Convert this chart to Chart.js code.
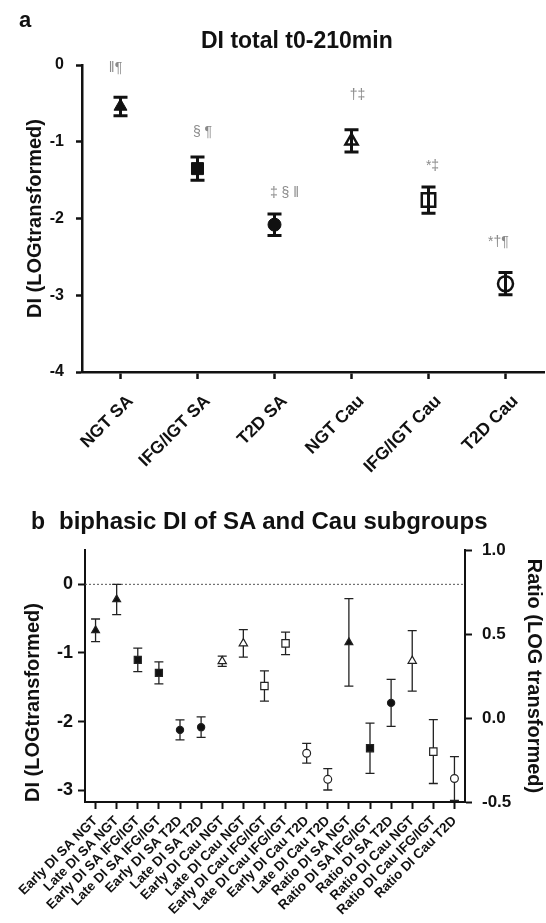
<!DOCTYPE html>
<html>
<head>
<meta charset="utf-8">
<script src="https://cdn.jsdelivr.net/npm/chart.js@4"></script>
<style>
body { margin: 0; background: #fff; }
#hoja { position: relative; width: 546px; height: 923px; overflow: hidden; font-family: "Liberation Sans", Arial, sans-serif; }
.rotulo { position: absolute; font-weight: bold; color: #111; white-space: nowrap; line-height: 1; z-index: 2; }
canvas { position: absolute; left: 0; }
</style>
</head>
<body>
<div id="hoja">
  <div class="rotulo" style="left:19px;top:9px;font-size:22px">a</div>
  <div class="rotulo" style="left:201px;top:29px;font-size:23px">DI total t0-210min</div>
  <div class="rotulo" style="left:31px;top:510px;font-size:23px">b</div>
  <div class="rotulo" style="left:59px;top:509px;font-size:24px">biphasic DI of SA and Cau subgroups</div>
  <canvas id="graficoA" width="546" height="490" style="top:0"></canvas>
  <canvas id="graficoB" width="546" height="433" style="top:490px"></canvas>
</div>
<script>
// panel a: DI total
var gruposA = ['NGT SA', 'IFG/IGT SA', 'T2D SA', 'NGT Cau', 'IFG/IGT Cau', 'T2D Cau'];
var mediasA = [-0.54, -1.35, -2.08, -0.99, -1.76, -2.85];
var errA = [0.12, 0.15, 0.14, 0.145, 0.17, 0.145];
var marcasA = ['\u2016\u00b6', '\u00a7 \u00b6', '\u2021 \u00a7 \u2016', '\u2020\u2021', '*\u2021', '*\u2020\u00b6'];
var ticksA = [0, -1, -2, -3, -4];

// panel b: biphasic DI
var gruposB = ['Early DI SA NGT', 'Late DI SA NGT', 'Early DI SA IFG/IGT', 'Late DI SA IFG/IGT',
  'Early DI SA T2D', 'Late DI SA T2D', 'Early DI Cau NGT', 'Late DI Cau NGT',
  'Early DI Cau IFG/IGT', 'Late DI Cau IFG/IGT', 'Early DI Cau T2D', 'Late DI Cau T2D',
  'Ratio DI SA NGT', 'Ratio DI SA IFG/IGT', 'Ratio DI SA T2D', 'Ratio DI Cau NGT',
  'Ratio DI Cau IFG/IGT', 'Ratio DI Cau T2D'];
var diB = [-0.67, -0.22, -1.10, -1.29, -2.12, -2.08, -1.12, -0.86, -1.48, -0.86, -2.46, -2.84,
  null, null, null, null, null, null];
var errDiB = [0.165, 0.22, 0.17, 0.16, 0.145, 0.15, 0.075, 0.2, 0.22, 0.165, 0.145, 0.155,
  null, null, null, null, null, null];
var ratioB = [null, null, null, null, null, null, null, null, null, null, null, null,
  0.45, -0.18, 0.09, 0.34, -0.20, -0.36];
var errRatioB = [null, null, null, null, null, null, null, null, null, null, null, null,
  0.26, 0.15, 0.14, 0.18, 0.19, 0.13];
var ticksIzqB = [0, -1, -2, -3];
var ticksDerB = [1.0, 0.5, 0.0, -0.5];

var fuente = '"Liberation Sans", Arial, sans-serif';
var negro = '#111';

var barrasError = {
  id: 'barrasError',
  beforeDatasetsDraw: function (chart, args, opts) {
    var ctx = chart.ctx;
    chart.data.datasets.forEach(function (ds, i) {
      if (!ds.errores) return;
      var meta = chart.getDatasetMeta(i);
      var escala = chart.scales[meta.yAxisID];
      ctx.save();
      ctx.strokeStyle = opts.color;
      ctx.lineWidth = opts.ancho;
      meta.data.forEach(function (pt, j) {
        var v = ds.data[j];
        if (v === null || v === undefined) return;
        var arriba = escala.getPixelForValue(v + ds.errores[j]);
        var abajo = escala.getPixelForValue(v - ds.errores[j]);
        ctx.beginPath();
        ctx.moveTo(pt.x, arriba); ctx.lineTo(pt.x, abajo);
        ctx.moveTo(pt.x - opts.tapa, arriba); ctx.lineTo(pt.x + opts.tapa, arriba);
        ctx.moveTo(pt.x - opts.tapa, abajo); ctx.lineTo(pt.x + opts.tapa, abajo);
        ctx.stroke();
      });
      ctx.restore();
    });
  }
};

var marcas = {
  id: 'marcas',
  afterDatasetsDraw: function (chart, args, opts) {
    if (!opts.textos) return;
    var ctx = chart.ctx;
    var ds = chart.data.datasets[0];
    var meta = chart.getDatasetMeta(0);
    var escala = chart.scales.y;
    ctx.save();
    ctx.fillStyle = '#8a8a8a';
    ctx.font = '14px ' + fuente;
    ctx.textAlign = 'center';
    ctx.textBaseline = 'middle';
    meta.data.forEach(function (pt, j) {
      var arriba = escala.getPixelForValue(ds.data[j] + ds.errores[j]);
      ctx.fillText(opts.textos[j], pt.x + opts.dx[j], arriba - opts.dy[j]);
    });
    ctx.restore();
  }
};

var lineaCero = {
  id: 'lineaCero',
  beforeDatasetsDraw: function (chart) {
    var ctx = chart.ctx;
    var y = chart.scales.y.getPixelForValue(0);
    ctx.save();
    ctx.strokeStyle = '#555';
    ctx.lineWidth = 1;
    ctx.setLineDash([2, 2]);
    ctx.beginPath();
    ctx.moveTo(chart.chartArea.left, y);
    ctx.lineTo(chart.chartArea.right, y);
    ctx.stroke();
    ctx.restore();
  }
};

var hueco = 'rgba(0,0,0,0)';

new Chart(document.getElementById('graficoA'), {
  type: 'line',
  data: {
    labels: gruposA,
    datasets: [{
      data: mediasA,
      errores: errA,
      showLine: false,
      clip: false,
      pointStyle: ['triangle', 'rect', 'circle', 'triangle', 'rect', 'circle'],
      pointRadius: [7.5, 8.5, 6.5, 7, 9.5, 7.5],
      pointBackgroundColor: [negro, negro, negro, hueco, hueco, hueco],
      pointBorderColor: negro,
      pointBorderWidth: [1, 1, 1, 2.5, 2.5, 2.5]
    }]
  },
  options: {
    responsive: false,
    animation: false,
    layout: { autoPadding: false, padding: { top: 65, right: 2, left: 0, bottom: 0 } },
    plugins: {
      legend: { display: false },
      tooltip: { enabled: false },
      barrasError: { color: negro, ancho: 3, tapa: 7 },
      marcas: { textos: marcasA, dx: [-5, 5, 10, 6, 4, -7], dy: [29, 25, 21, 35, 21, 30] }
    },
    scales: {
      x: {
        offset: true,
        grid: { display: true, drawOnChartArea: false, tickLength: 7, tickWidth: 2.5, tickColor: negro },
        border: { color: negro, width: 2.5 },
        ticks: { color: negro, font: { family: fuente, size: 17.5, weight: 'bold' }, maxRotation: 45, minRotation: 45,
          padding: 12, labelOffset: 10, autoSkip: false },
        afterFit: function (s) { s.height = 118; s.paddingLeft = 0; s.paddingRight = 0; }
      },
      y: {
        min: -4,
        max: 0,
        afterBuildTicks: function (s) { s.ticks = ticksA.map(function (v) { return { value: v }; }); },
        grid: { display: true, drawOnChartArea: false, tickLength: 6, tickWidth: 2.5, tickColor: negro },
        border: { color: negro, width: 2.5 },
        ticks: { color: negro, font: { family: fuente, size: 16, weight: 'bold' }, padding: 12,
          callback: function (v) { return String(v); } },
        title: { display: true, text: 'DI (LOGtransformed)', color: negro,
          font: { family: fuente, size: 20, weight: 'bold' }, padding: { top: 23, bottom: 0 } },
        afterFit: function (s) { s.width = 82; }
      }
    }
  },
  plugins: [barrasError, marcas]
});

var estilosB = ['triangle', 'triangle', 'rect', 'rect', 'circle', 'circle',
  'triangle', 'triangle', 'rect', 'rect', 'circle', 'circle',
  'triangle', 'rect', 'circle', 'triangle', 'rect', 'circle'];
var rellenoB = [negro, negro, negro, negro, negro, negro, '#fff', '#fff', '#fff', '#fff', '#fff', '#fff',
  negro, negro, negro, '#fff', '#fff', '#fff'];
var radioB = [4.5, 4.5, 5, 5, 3.6, 3.6, 4.8, 4.8, 5.2, 5.2, 3.9, 3.9, 4.5, 5, 3.6, 4.8, 5.2, 3.9];

function serieB(datos, errores, eje) {
  return {
    data: datos,
    errores: errores,
    yAxisID: eje,
    showLine: false,
    clip: false,
    pointStyle: estilosB,
    pointRadius: radioB,
    pointBackgroundColor: rellenoB,
    pointBorderColor: '#222',
    pointBorderWidth: 1.2
  };
}

new Chart(document.getElementById('graficoB'), {
  type: 'line',
  data: {
    labels: gruposB,
    datasets: [serieB(diB, errDiB, 'y'), serieB(ratioB, errRatioB, 'y2')]
  },
  options: {
    responsive: false,
    animation: false,
    layout: { autoPadding: false, padding: { top: 60, right: 0, left: 0, bottom: 0 } },
    plugins: {
      legend: { display: false },
      tooltip: { enabled: false },
      barrasError: { color: '#222', ancho: 1.3, tapa: 4.5 }
    },
    scales: {
      x: {
        offset: true,
        grid: { display: true, drawOnChartArea: false, tickLength: 7, tickWidth: 2, tickColor: negro },
        border: { color: negro, width: 2 },
        ticks: { color: negro, font: { family: fuente, size: 13.5, weight: 'bold' }, maxRotation: 45, minRotation: 45,
          padding: 4, autoSkip: false },
        afterFit: function (s) { s.height = 121; s.paddingLeft = 0; s.paddingRight = 0; }
      },
      y: {
        position: 'left',
        min: -3.17,
        max: 0.5,
        afterBuildTicks: function (s) { s.ticks = ticksIzqB.map(function (v) { return { value: v }; }); },
        grid: { display: true, drawOnChartArea: false, tickLength: 7, tickWidth: 2, tickColor: negro },
        border: { color: negro, width: 2 },
        ticks: { color: negro, font: { family: fuente, size: 18, weight: 'bold' }, padding: 5,
          callback: function (v) { return String(v); } },
        title: { display: true, text: 'DI (LOGtransformed)', align: 'start', color: negro,
          font: { family: fuente, size: 20, weight: 'bold' }, padding: { top: 21, bottom: 0 } },
        afterFit: function (s) { s.width = 85; }
      },
      y2: {
        position: 'right',
        min: -0.5,
        max: 1.0,
        afterBuildTicks: function (s) { s.ticks = ticksDerB.map(function (v) { return { value: v }; }); },
        grid: { display: true, drawOnChartArea: false, tickLength: 7, tickWidth: 2, tickColor: negro },
        border: { color: negro, width: 2 },
        ticks: { color: negro, font: { family: fuente, size: 17, weight: 'bold' }, padding: 10,
          callback: function (v) { return v.toFixed(1); } },
        title: { display: true, text: 'Ratio (LOG transformed)', color: negro,
          font: { family: fuente, size: 20, weight: 'bold' }, padding: { top: 0, bottom: 0 } },
        afterFit: function (s) { s.width = 81; }
      }
    }
  },
  plugins: [lineaCero, barrasError]
});
</script>
</body>
</html>
